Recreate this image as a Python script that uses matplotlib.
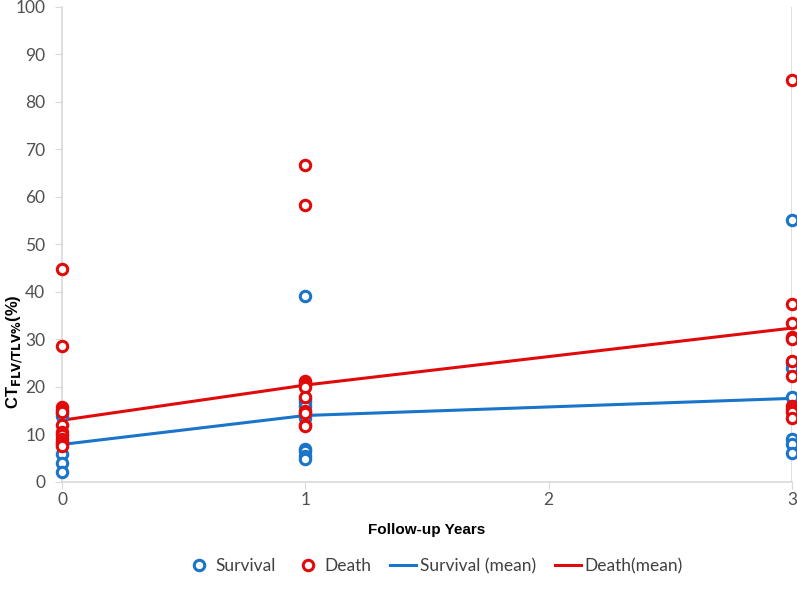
import matplotlib.pyplot as plt
import numpy as np
from matplotlib.lines import Line2D

# follow-up years and individual values
surv_x0 = [14.5, 13.8, 5.9, 4.1, 2.1]
surv_x1 = [39.2, 17.5, 16.8, 16.0, 14.0, 13.5, 7.0, 6.5, 5.5, 4.8]
surv_x3 = [55.2, 25.0, 24.0, 17.8, 9.0, 8.0, 6.0]
death_x0 = [44.8, 28.6, 15.8, 15.2, 14.8, 12.1, 10.5, 9.8, 9.0, 8.4, 7.9, 7.5]
death_x1 = [66.7, 58.3, 21.2, 20.8, 20.5, 20.0, 17.8, 15.0, 14.5, 12.0, 11.7]
death_x3 = [84.6, 37.5, 33.5, 30.5, 30.0, 25.5, 22.3, 16.0, 15.3, 14.8, 13.5]

years = [0, 1, 3]
surv_mean = [7.9, 14.0, 17.6]
death_mean = [13.0, 20.4, 32.4]

blue = '#1A74C9'
red = '#E00A0A'

plt.rcParams['font.family'] = ['Lato', 'DejaVu Sans']

fig = plt.figure(figsize=(7.97, 6.03), dpi=100)
ax = fig.add_axes([0.0778, 0.2007, 0.9159, 0.7877])

def scatter(vals_by_year, color, label):
    xs, ys = [], []
    for yr, vals in zip(years, vals_by_year):
        xs += [yr] * len(vals)
        ys += vals
    ax.plot(xs, ys, 'o', ls='none', mfc='white', mec=color, mew=2.2,
            ms=7.5, label=label, zorder=3, clip_on=False)

ax.plot(years, surv_mean, color=blue, lw=2.2, zorder=2)
ax.plot(years, death_mean, color=red, lw=2.2, zorder=2)
scatter([surv_x0, surv_x1, surv_x3], blue, 'Survival')
scatter([death_x0, death_x1, death_x3], red, 'Death')

ax.set_xlim(0, 3)
ax.set_ylim(0, 100)
ax.set_xticks([0, 1, 2, 3])
ax.set_yticks(np.arange(0, 101, 10))
ax.axvline(3, color='#D9D9D9', lw=1.2, zorder=1)

for s in ['top', 'right']:
    ax.spines[s].set_visible(False)
for s in ['left', 'bottom']:
    ax.spines[s].set_color('#D9D9D9')
    ax.spines[s].set_linewidth(1.2)
ax.tick_params(colors='#D9D9D9', labelcolor='#505050', labelsize=12.5, length=5)
ax.tick_params(axis='y', pad=7)
ax.tick_params(axis='x', pad=2)

ax.set_xlabel('Follow-up Years', fontsize=11, fontweight='bold',
              family='Liberation Sans')
ax.xaxis.set_label_coords(0.5, -0.086)
ax.set_ylabel(r'CT$_{\mathbf{FLV/TLV\%}}$(%)', fontsize=12, fontweight='bold',
              family='Liberation Sans')
ax.yaxis.set_label_coords(-0.051, 0.274)

handles = [
    Line2D([], [], marker='o', ls='none', mfc='white', mec=blue, mew=2.2, ms=7.5),
    Line2D([], [], marker='o', ls='none', mfc='white', mec=red, mew=2.2, ms=7.5),
    Line2D([], [], color=blue, lw=2.2),
    Line2D([], [], color=red, lw=2.2),
]
labels = ['Survival', 'Death', 'Survival (mean)', 'Death(mean)']
fig.legend(handles, labels, loc='center', bbox_to_anchor=(0.545, 0.061), ncol=4,
           frameon=False, fontsize=12.5, handlelength=1.5, handletextpad=0.2,
           columnspacing=1.1, labelcolor='#404040')

fig.savefig('out.png', dpi=100)
